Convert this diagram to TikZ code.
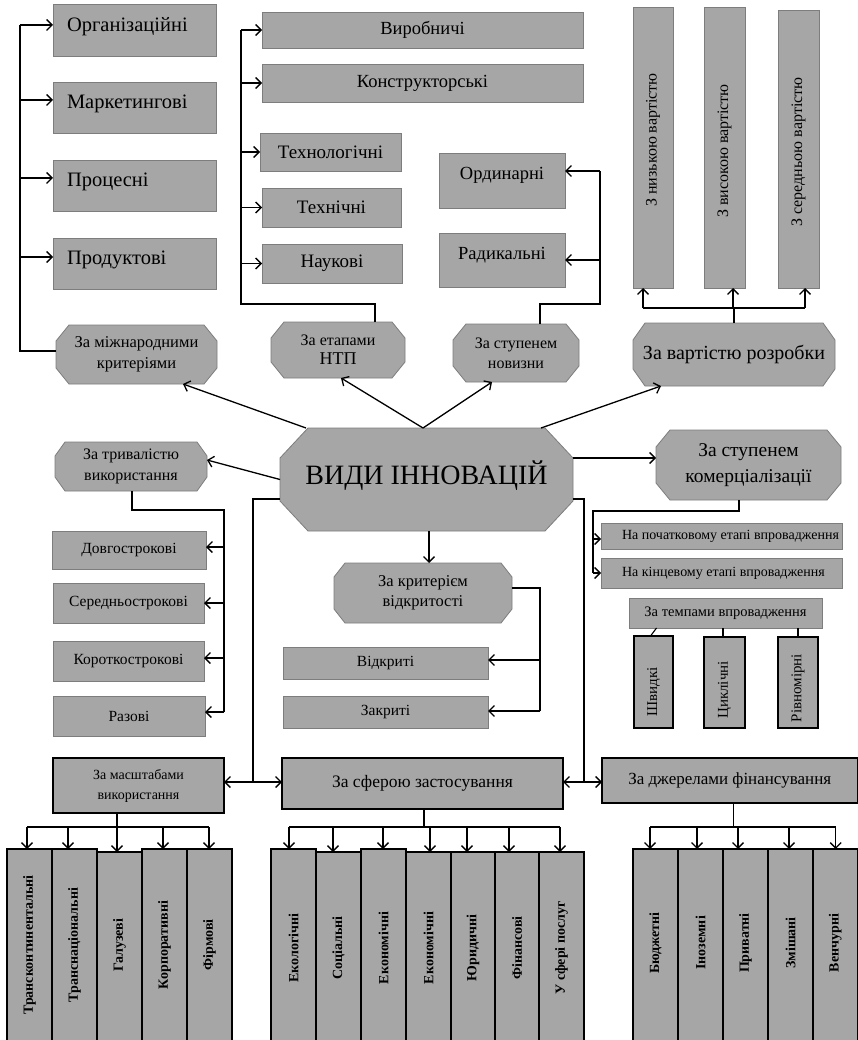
\documentclass[tikz,border=0pt]{standalone}
\usepackage{fontspec}
\setmainfont{Liberation Serif}
\usetikzlibrary{arrows.meta,calc}
\definecolor{boxgray}{RGB}{166,166,166}
\definecolor{edgegray}{RGB}{125,125,125}
\newcommand\fsz[2]{\fontsize{#1pt}{#2pt}\selectfont}
% rectangle box: style, name, x1, y1, x2, y2, text
\newcommand\rbox[7]{%
  \pgfmathsetmacro\rbw{#5-#3}\pgfmathsetmacro\rbh{#6-#4}%
  \pgfmathsetmacro\rbcx{(#3+#5)/2}\pgfmathsetmacro\rbcy{(#4+#6)/2}%
  \node[#1, minimum width=\rbw pt, minimum height=\rbh pt] (#2) at (\rbcx,\rbcy) {#7};}
% octagon: [opts], name, x1, y1, x2, y2, chamfer x, chamfer y, text
\newcommand\octbox[9][]{%
  \pgfmathsetmacro\octxa{#3}\pgfmathsetmacro\octya{#4}%
  \pgfmathsetmacro\octxb{#5}\pgfmathsetmacro\octyb{#6}%
  \pgfmathsetmacro\octw{#5-#3}\pgfmathsetmacro\octh{#6-#4}%
  \pgfmathsetmacro\octcx{(#3+#5)/2}\pgfmathsetmacro\octcy{(#4+#6)/2}%
  \path[octshape] (\octxa+#7,\octya) -- (\octxb-#7,\octya) -- (\octxb,\octya+#8)
    -- (\octxb,\octyb-#8) -- (\octxb-#7,\octyb) -- (\octxa+#7,\octyb)
    -- (\octxa,\octyb-#8) -- (\octxa,\octya+#8) -- cycle;
  \node[octtext, #1, minimum width=\octw pt, minimum height=\octh pt] (#2) at (\octcx,\octcy) {#9};}
\newcommand\liftA{\rule[-12pt]{0pt}{26pt}}
\newcommand\liftB{\rule[-15pt]{0pt}{29pt}}

\begin{document}
\begin{tikzpicture}[x=1pt,y=-1pt,
  gbox/.style={draw=edgegray, line width=0.8pt, fill=boxgray, inner sep=0pt, outer sep=0pt, align=center},
  kbox/.style={gbox, draw=black, line width=1.1pt},
  octshape/.style={draw=edgegray, line width=0.8pt, fill=boxgray},
  octtext/.style={inner sep=0pt, outer sep=0pt, align=center},
  cline/.style={draw=black, line width=1.3pt},
  carr/.style={cline, -{Straight Barb[length=5.5pt,width=11pt]}},
  vtxt/.style={rotate=90, inner sep=0pt, font=\fsz{16}{18}},
  rotb/.style={rotate=90, inner sep=0pt, font=\bfseries\fsz{14}{16}},
]
\clip (0,0) rectangle (858,1040);
\fill[white] (0,0) rectangle (858,1040);

% ---------- top left column
\rbox{gbox, font=\fsz{20.5}{23}}{org}{53}{4}{216}{56}{\makebox[135pt][l]{Організаційні\liftA}}
\rbox{gbox, font=\fsz{20.5}{23}}{mark}{53}{82}{216}{133}{\makebox[135pt][l]{Маркетингові\liftA}}
\rbox{gbox, font=\fsz{20.5}{23}}{proc}{53}{160}{216}{211}{\makebox[135pt][l]{Процесні\liftA}}
\rbox{gbox, font=\fsz{20.5}{23}}{prod}{53}{238}{216}{289}{\makebox[135pt][l]{Продуктові\liftA}}

% ---------- top middle column
\rbox{gbox, font=\fsz{18.5}{21}}{vyr}{262}{12}{583}{48}{Виробничі}
\rbox{gbox, font=\fsz{18.5}{21}}{kons}{262}{64}{583}{102}{Конструкторські}
\rbox{gbox, font=\fsz{19}{21}}{tech}{260}{133}{401}{171}{Технологічні}
\rbox{gbox, font=\fsz{19}{21}}{tekhn}{262}{188}{401}{227}{Технічні}
\rbox{gbox, font=\fsz{19}{21}}{nauk}{262}{244}{402}{283}{Наукові}
\rbox{gbox, font=\fsz{18.5}{21}}{ord}{439}{153}{565}{208}{Ординарні\liftB}
\rbox{gbox, font=\fsz{18.5}{21}}{rad}{439}{233}{565}{287}{Радикальні\liftB}

% ---------- top right vertical boxes
\rbox{gbox}{low}{633}{7}{673}{288}{}
\rbox{gbox}{high}{704}{7}{745}{288}{}
\rbox{gbox}{midc}{778}{10}{819}{288}{}
\node[vtxt] (tlow) at (653,140) {З низькою вартістю};
\node[vtxt] (thigh) at (724.5,151) {З високою вартістю};
\node[vtxt] (tmid) at (798.5,152) {З середньою вартістю};

% ---------- octagons
\octbox[font=\fsz{16.5}{21}]{intl}{56}{325}{217}{384}{13}{16}{За міжнародними\\критеріями}
\octbox[font=\fsz{16}{19}]{ntp}{271}{322}{405}{378}{13}{16}{За етапами\\{\fsz{18}{19}НТП}}
\octbox[font=\fsz{16}{20}]{nov}{453}{324}{579}{382}{13}{16}{За ступенем\\новизни}
\octbox[font=\fsz{20}{22}]{cost}{633}{323}{835}{386}{12}{17}{За вартістю розробки}
\octbox[font=\fsz{16}{21}]{dur}{55}{442}{207}{491}{10}{14}{За тривалістю\\використання}
\octbox[font=\fsz{28}{30}]{main}{280}{428}{573}{531}{28}{30}{ВИДИ ІННОВАЦІЙ\rule[-14pt]{0pt}{14pt}}
\octbox[font=\fsz{19.5}{26}]{comm}{656}{430}{841}{500}{14}{17}{За ступенем\\комерціалізації}
\octbox[font=\fsz{16.5}{20}]{open}{334}{563}{512}{623}{11}{14}{За критерієм\\відкритості}

% ---------- duration boxes
\rbox{gbox, font=\fsz{15.5}{18}}{dl}{52}{531}{206}{569}{Довгострокові}
\rbox{gbox, font=\fsz{15.5}{18}}{sr}{53}{583}{204}{623}{Середньострокові}
\rbox{gbox, font=\fsz{15.5}{18}}{kr}{53}{641}{204}{681}{Короткострокові}
\rbox{gbox, font=\fsz{15.5}{18}}{raz}{53}{696}{205}{736}{Разові}

% ---------- openness boxes
\rbox{gbox, font=\fsz{15.5}{18}}{otk}{283}{647}{488}{679}{Відкриті}
\rbox{gbox, font=\fsz{15.5}{18}}{zak}{283}{696}{488}{728}{Закриті}

% ---------- commercialisation boxes
\rbox{gbox, font=\fsz{14}{16}}{ini}{601}{523}{842}{549}{\makebox[199pt][l]{На початковому етапі впровадження}}
\rbox{gbox, font=\fsz{14}{16}}{endi}{601}{558}{842}{588}{\makebox[199pt][l]{На кінцевому етапі впровадження}}
\rbox{gbox, font=\fsz{14.5}{16}}{temp}{629}{598}{822}{628}{За темпами впровадження}
\rbox{kbox}{fast}{634}{636}{673}{728}{}
\rbox{kbox}{cyc}{704}{637}{745}{728}{}
\rbox{kbox}{even}{778}{637}{818}{728}{}
\node[vtxt, font=\fsz{15}{16}] (tfast) at (653.5,692) {Швидкі};
\node[vtxt, font=\fsz{15}{16}] (tcyc) at (724.5,690) {Циклічні};
\node[vtxt, font=\fsz{15}{16}] (teven) at (798,688) {Рівномірні};

% ---------- bottom headers
\rbox{kbox, font=\fsz{14}{20}}{scale}{53}{758}{224}{813}{За масштабами\\використання}
\rbox{kbox, font=\fsz{17.5}{20}}{sphere}{282}{758}{563}{809}{За сферою застосування}
\rbox{kbox, font=\fsz{17}{20}}{fin}{602}{758}{857.4}{803}{За джерелами фінансування}

% ---------- bottom columns
\rbox{kbox}{a1}{7}{849}{52}{1044}{}
\rbox{kbox}{a2}{52}{849}{97}{1044}{}
\rbox{kbox}{a3}{97}{852}{142}{1044}{}
\rbox{kbox}{a4}{142}{849}{187}{1044}{}
\rbox{kbox}{a5}{187}{849}{232}{1044}{}
\rbox{kbox}{b1}{271}{849}{316}{1044}{}
\rbox{kbox}{b2}{316}{852}{361}{1044}{}
\rbox{kbox}{b3}{361}{849}{406}{1044}{}
\rbox{kbox}{b4}{406}{852}{451}{1044}{}
\rbox{kbox}{b5}{451}{852}{495}{1044}{}
\rbox{kbox}{b6}{495}{852}{539}{1044}{}
\rbox{kbox}{b7}{539}{852}{584}{1044}{}
\rbox{kbox}{c1}{633}{849}{678}{1044}{}
\rbox{kbox}{c2}{678}{849}{723}{1044}{}
\rbox{kbox}{c3}{723}{849}{768}{1044}{}
\rbox{kbox}{c4}{768}{849}{813}{1044}{}
\rbox{kbox}{c5}{813}{849}{857.4}{1044}{}
\coordinate (rowA) at (0,945);
\coordinate (rowB) at (0,948);
\coordinate (rowC) at (0,943);
\node[rotb] (ta1) at (a1 |- rowA) {Трансконтинентальні};
\node[rotb] (ta2) at (a2 |- rowA) {Транснаціональні};
\node[rotb] (ta3) at (a3 |- rowA) {Галузеві};
\node[rotb] (ta4) at (a4 |- rowA) {Корпоративні};
\node[rotb] (ta5) at (a5 |- rowA) {Фірмові};
\node[rotb] (tb1) at (b1 |- rowB) {Екологічні};
\node[rotb] (tb2) at (b2 |- rowB) {Соціальні};
\node[rotb] (tb3) at (b3 |- rowB) {Економічні};
\node[rotb] (tb4) at (b4 |- rowB) {Економічні};
\node[rotb] (tb5) at (b5 |- rowB) {Юридичні};
\node[rotb] (tb6) at (b6 |- rowB) {Фінансові};
\node[rotb] (tb7) at (b7 |- rowB) {У сфері послуг};
\node[rotb] (tc1) at (c1 |- rowC) {Бюджетні};
\node[rotb] (tc2) at (c2 |- rowC) {Іноземні};
\node[rotb] (tc3) at (c3 |- rowC) {Приватні};
\node[rotb] (tc4) at (c4 |- rowC) {Змішані};
\node[rotb] (tc5) at (c5 |- rowC) {Венчурні};

% ================= connectors
% left bus (international)
\coordinate (L1) at (20,351);
\draw[cline] ([yshift=3.5pt]intl.west) -- (L1) -- ([yshift=5pt]org.west -| L1);
\draw[carr] ([yshift=5pt]org.west -| L1) -- ([yshift=5pt]org.west);
\draw[carr] ([yshift=7.5pt]mark.west -| L1) -- ([yshift=7.5pt]mark.west);
\draw[carr] ([yshift=7.5pt]proc.west -| L1) -- ([yshift=7.5pt]proc.west);
\draw[carr] ([yshift=6.5pt]prod.west -| L1) -- ([yshift=6.5pt]prod.west);

% middle bus (NTP stages)
\coordinate (M1) at (241,304);
\draw[cline] ([xshift=37pt]ntp.north) |- (M1) -- (vyr.west -| M1);
\foreach \n in {vyr,kons,tech,tekhn,nauk}
  \draw[carr] (\n.west -| M1) -- (\n.west);

% novelty
\coordinate (N1) at (600,304);
\draw[cline] ([xshift=24pt]nov.north) |- (N1) -- ([yshift=9.5pt]ord.east -| N1);
\draw[carr] ([yshift=9.5pt]ord.east -| N1) -- ([yshift=9.5pt]ord.east);
\draw[carr] (rad.east -| N1) -- (rad.east);

% cost
\coordinate (K1) at (734,308);
\draw[cline] (cost.north) -- (cost.north |- K1);
\draw[cline] ([xshift=-10pt]low.south |- K1) -- ([xshift=6.5pt]midc.south |- K1);
\draw[carr] ([xshift=-10pt]low.south |- K1) -- ([xshift=-10pt]low.south);
\draw[carr] ([xshift=8.5pt]high.south |- K1) -- ([xshift=8.5pt]high.south);
\draw[carr] ([xshift=6.5pt]midc.south |- K1) -- ([xshift=6.5pt]midc.south);

% spokes from the main node
\draw[carr] ([xshift=-120.5pt]main.north) -- ([xshift=46.5pt]intl.south);
\draw[carr] ([xshift=-3.5pt]main.north) -- ([xshift=3pt]ntp.south);
\draw[carr] ([xshift=-3.5pt]main.north) -- ([xshift=-24pt]nov.south);
\draw[carr] ([xshift=114.5pt]main.north) -- ([xshift=-73pt]cost.south);
\draw[carr] (main.west) -- ([yshift=6.5pt]dur.east);
\draw[carr] ([yshift=21.5pt]main.east) -- ([yshift=21.5pt]main.east -| comm.west);
\draw[carr] ([xshift=2.5pt]main.south) -- ([xshift=2.5pt]main.south |- open.north);

% duration bus
\coordinate (D1) at (224,510);
\draw[cline] ([xshift=1pt]dur.south) |- (D1) -- ([yshift=4pt]raz.east -| D1);
\draw[carr] ([yshift=3pt]dl.east -| D1) -- ([yshift=3pt]dl.east);
\draw[carr] (sr.east -| D1) -- (sr.east);
\draw[carr] ([yshift=3pt]kr.east -| D1) -- ([yshift=3pt]kr.east);
\draw[carr] ([yshift=4pt]raz.east -| D1) -- ([yshift=4pt]raz.east);

% commercialisation bus
\coordinate (Q1) at (593,511);
\draw[cline] ([xshift=-9.5pt]comm.south) |- (Q1) -- (endi.west -| Q1);
\draw[carr] ([yshift=-3pt]ini.west -| Q1) -- ([yshift=-3pt]ini.west);
\draw[carr] (endi.west -| Q1) -- (endi.west);
\draw[cline, line width=1.1pt] ([xshift=3pt]fast.north |- temp.south) -- ([xshift=-3pt]fast.north);
\draw[cline, line width=1.1pt] ([xshift=-1.5pt]cyc.north |- temp.south) -- ([xshift=-1.5pt]cyc.north);
\draw[cline, line width=1.1pt] (even.north |- temp.south) -- (even.north);

% openness bus
\coordinate (O1) at (540,588);
\draw[cline] ([yshift=5pt]open.east) -- (O1) -- ([yshift=1pt]zak.east -| O1);
\draw[carr] ([yshift=3pt]otk.east -| O1) -- ([yshift=3pt]otk.east);
\draw[carr] ([yshift=1pt]zak.east -| O1) -- ([yshift=1pt]zak.east);

% lower left / right buses from main node
\coordinate (P1) at (253,499);
\coordinate (P2) at (253,782);
\draw[cline] ([yshift=-19.5pt]main.west) -- (P1) -- (P2);
\draw[carr] (P2) -- (scale.east |- P2);
\draw[carr] (P2) -- (sphere.west |- P2);
\coordinate (P3) at (584,499);
\coordinate (P4) at (584,782);
\draw[cline] ([yshift=-19.5pt]main.east) -- (P3) -- (P4);
\draw[carr] (P4) -- (sphere.east |- P4);
\draw[carr] (P4) -- (fin.west |- P4);

% bottom buses
\coordinate (S1) at (0,827);
\draw[cline] ([xshift=-21.5pt]scale.south) -- ([xshift=-21.5pt]scale.south |- S1);
\draw[cline] ([xshift=-2.5pt]a1.north |- S1) -- ([xshift=-0.5pt]a5.north |- S1);
\foreach \n/\s in {a1/-2.5pt,a2/-6.5pt,a3/-2.5pt,a4/-1.5pt,a5/-0.5pt}
  \draw[carr] ([xshift=\s]\n.north |- S1) -- ([xshift=\s]\n.north);

\draw[cline] ([xshift=1.5pt]sphere.south) -- ([xshift=1.5pt]sphere.south |- S1);
\draw[cline] ([xshift=-4.5pt]b1.north |- S1) -- ([xshift=-1.5pt]b7.north |- S1);
\foreach \n/\s in {b1/-4.5pt,b2/-5.5pt,b3/-0.5pt,b4/1.5pt,b5/-6pt,b6/-8pt,b7/-1.5pt}
  \draw[carr] ([xshift=\s]\n.north |- S1) -- ([xshift=\s]\n.north);

\coordinate (F1) at (733.5,827);
\draw[cline] (fin.south -| F1) -- (F1);
\draw[cline] ([xshift=-5.5pt]c1.north |- S1) -- ([xshift=0.5pt]c5.north |- S1);
\foreach \n/\s in {c1/-5.5pt,c2/-3.5pt,c3/-7.5pt,c4/-1.5pt,c5/0.5pt}
  \draw[carr] ([xshift=\s]\n.north |- S1) -- ([xshift=\s]\n.north);
\end{tikzpicture}
\end{document}
